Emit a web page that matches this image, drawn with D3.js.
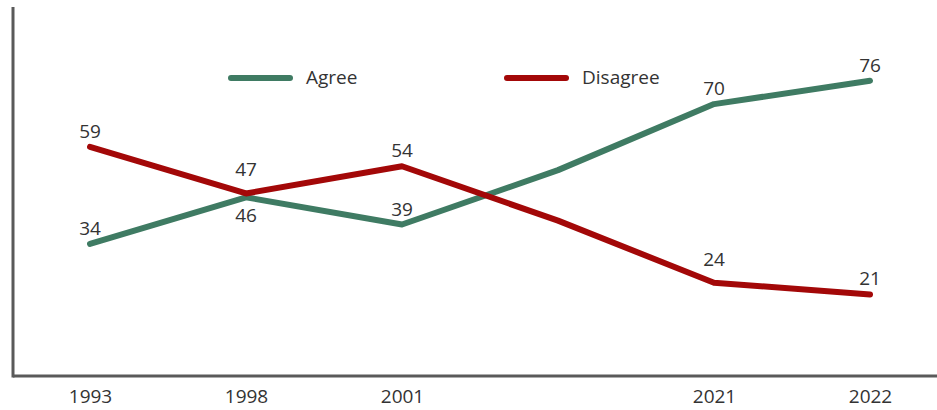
<!DOCTYPE html>
<html>
<head>
<meta charset="utf-8">
<script src="https://cdn.jsdelivr.net/npm/d3@7"></script>
<style>
  body { margin: 0; background: #fff; }
  text { font-family: "Open Sans", "DejaVu Sans", sans-serif; fill: #333; }
</style>
</head>
<body>
<div id="chart"></div>
<script>
// categories (4th point has no label in the original)
const years = ["1993", "1998", "2001", "", "2021", "2022"];
const agree = [34, 46, 39, 53, 70, 76];
const disagree = [59, 47, 54, 40, 24, 21];
const seriesNames = ["Agree", "Disagree"];
const colors = ["#3f7b63", "#a30808"];

const width = 937, height = 410;
const fontSize = "19px";

const svg = d3.select("#chart").append("svg")
    .attr("width", width)
    .attr("height", height);

const x = d3.scalePoint().domain(years).range([90, 870]);
const y = d3.scaleLinear().domain([0, 95]).range([376, 7]);

// axes (plain lines, no ticks)
svg.append("g")
    .attr("transform", "translate(0,376)")
    .call(d3.axisBottom(x).tickSize(0).tickPadding(11))
    .call(g => g.select(".domain").attr("d", "M13,0H937").attr("stroke", "#5a5a5a").attr("stroke-width", 3))
    .call(g => g.selectAll("text").style("font-size", fontSize).attr("fill", "#333").attr("dy", "0.85em"));

svg.append("line")
    .attr("x1", 13).attr("x2", 13)
    .attr("y1", y.range()[1]).attr("y2", 377.5)
    .attr("stroke", "#5a5a5a").attr("stroke-width", 3);

const series = [agree, disagree];
const line = d3.line()
    .x((d, i) => x(years[i]))
    .y(d => y(d));

series.forEach((vals, s) => {
    svg.append("path")
        .datum(vals)
        .attr("d", line)
        .attr("fill", "none")
        .attr("stroke", colors[s])
        .attr("stroke-width", 6)
        .attr("stroke-linecap", "round")
        .attr("stroke-linejoin", "round");
});

// value labels (the unlabeled middle point has none)
function labelOffset(s, i) {
    if (s === 0 && i === 1) return 25;           // 46 sits under the line
    if (s === 1 && (i === 1 || i === 4)) return -17;
    return -9;
}
series.forEach((vals, s) => {
    svg.append("g").selectAll("text")
        .data(vals.map((v, i) => ({ v, i })).filter(d => years[d.i] !== ""))
        .enter().append("text")
        .attr("x", d => x(years[d.i]))
        .attr("y", d => y(d.v) + labelOffset(s, d.i))
        .attr("text-anchor", "middle")
        .style("font-size", fontSize)
        .text(d => d.v);
});

// legend
const legend = svg.append("g");
const legendX = [231, 507];
seriesNames.forEach((name, s) => {
    legend.append("line")
        .attr("x1", legendX[s]).attr("x2", legendX[s] + 59)
        .attr("y1", 78).attr("y2", 78)
        .attr("stroke", colors[s])
        .attr("stroke-width", 6)
        .attr("stroke-linecap", "round");
    legend.append("text")
        .attr("x", legendX[s] + 75)
        .attr("y", 84)
        .style("font-size", fontSize)
        .text(name);
});
</script>
</body>
</html>
